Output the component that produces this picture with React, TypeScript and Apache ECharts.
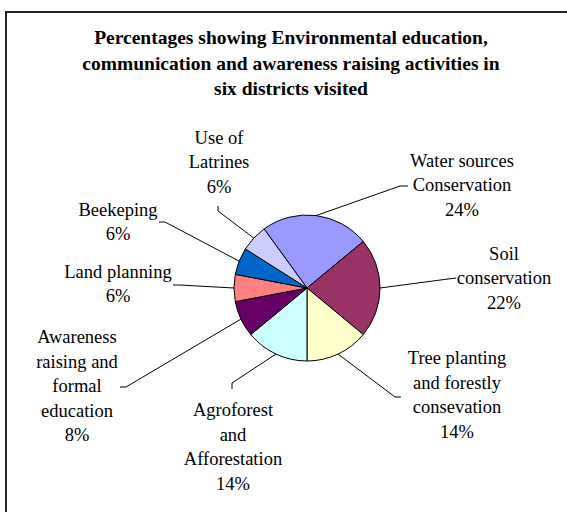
import React, { useEffect, useRef } from "react";
import * as echarts from "echarts";

const titleText =
  "Percentages showing Environmental education,\ncommunication and awareness raising activities in\nsix districts visited";

const categories = [
  "Water sources\nConservation",
  "Soil\nconservation",
  "Tree planting\nand forestly\nconsevation",
  "Agroforest\nand\nAfforestation",
  "Awareness\nraising and\nformal\neducation",
  "Land planning",
  "Beekeping",
  "Use of\nLatrines",
];

const values = [24, 22, 14, 14, 8, 6, 6, 6];

const colors = [
  "#9999FF",
  "#993366",
  "#FFFFCC",
  "#CCFFFF",
  "#660066",
  "#FF8080",
  "#0066CC",
  "#CCCCFF",
];

// label centre positions (px) and leader-line bend points
const labelCenters = [
  [462, 185],
  [504, 278],
  [457, 395],
  [233, 447],
  [77, 386],
  [118, 284],
  [118, 222],
  [219, 162],
];

const leaderBends = [
  [[400, 186], [408, 186]],
  [[448, 279], [456, 278]],
  [[395, 397], [401, 397]],
  [[232, 383], [232, 389]],
  [[126, 387], [120, 387]],
  [[180, 285], [173, 285]],
  [[165, 222], [159, 222]],
  [[218, 211], [218, 206]],
];

export default function App() {
  const ref = useRef<HTMLDivElement>(null);

  useEffect(() => {
    if (!ref.current) return;
    const chart = echarts.init(ref.current, null, { renderer: "svg" });
    const font = "Liberation Serif";
    chart.setOption({
      animation: false,
      backgroundColor: "#ffffff",
      title: {
        text: titleText,
        left: 291,
        top: 25,
        padding: 0,
        textAlign: "center",
        textStyle: {
          fontFamily: font,
          fontSize: 19.5,
          fontWeight: "bold",
          color: "#000",
          lineHeight: 25.5,
        },
      },
      graphic: [
        {
          type: "line",
          shape: { x1: 6, y1: 12, x2: 567, y2: 12 },
          style: { stroke: "#222", lineWidth: 2 },
          silent: true,
        },
        {
          type: "line",
          shape: { x1: 6, y1: 11, x2: 6, y2: 512 },
          style: { stroke: "#222", lineWidth: 2 },
          silent: true,
        },
      ],
      series: [
        {
          type: "pie",
          center: [307, 288],
          radius: 73,
          startAngle: 126,
          clockwise: true,
          silent: true,
          itemStyle: { borderColor: "#000", borderWidth: 1 },
          emphasis: { disabled: true },
          label: {
            show: true,
            position: "outside",
            fontFamily: font,
            fontSize: 18.5,
            lineHeight: 24.5,
            color: "#000",
            align: "center",
            formatter: (p: any) => `${p.name}\n${Math.round(p.percent)}%`,
          },
          labelLine: {
            show: true,
            length: 10,
            length2: 10,
            lineStyle: { color: "#000", width: 1 },
          },
          labelLayout: (params: any) => {
            const i = params.dataIndex;
            const start = params.labelLinePoints
              ? params.labelLinePoints[0]
              : null;
            const pts = start ? [start, ...leaderBends[i]] : undefined;
            return {
              x: labelCenters[i][0],
              y: labelCenters[i][1],
              align: "center",
              verticalAlign: "middle",
              labelLinePoints: pts,
            };
          },
          data: categories.map((name, i) => ({
            name,
            value: values[i],
            itemStyle: { color: colors[i] },
          })),
        },
      ],
    });
    return () => chart.dispose();
  }, []);

  return (
    <div
      ref={ref}
      style={{
        position: "fixed",
        left: 0,
        top: 0,
        width: 567,
        height: 512,
        overflow: "hidden",
      }}
    />
  );
}
